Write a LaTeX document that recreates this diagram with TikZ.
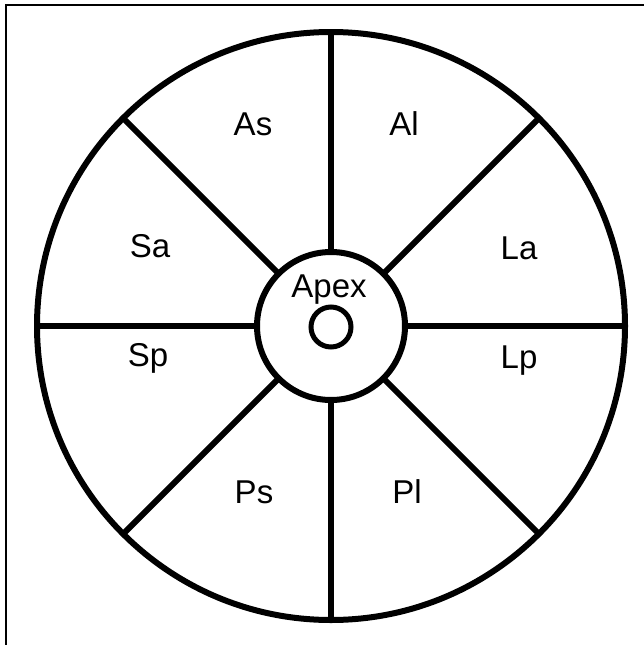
\documentclass[tikz,border=0pt]{standalone}
\usepackage{fontspec}
\setmainfont{Liberation Sans}
\usetikzlibrary{positioning}

\begin{document}
\begin{tikzpicture}[
      x=1pt, y=-1pt, line width=6pt,
      font=\fontsize{33}{36}\selectfont,
      ring/.style={draw, circle, inner sep=0pt, outer sep=0pt},
      lbl/.style={anchor=base, inner sep=0pt},
    ]
      \useasboundingbox (0,0) rectangle (644,645);
      % frame
      \draw[line width=2pt] (6,645) -- (6,5) -- (644,5);

      \node[ring, minimum size=588pt] (rim) at (331,326) {};
      \node[ring, minimum size=148pt] (hub) at (331,326) {};
      \node[ring, minimum size=40pt, line width=5pt] (eye) at (331,327) {};

      \foreach \a in {0,45,...,315}
        \draw (hub.\a) -- (rim.\a);

      \node[lbl] (apex) at (329,297) {Apex};
      \node[lbl] (as) at (253,135) {As};
      \node[lbl] (al) at (404,135) {Al};
      \node[lbl] (sa) at (150,257) {Sa};
      \node[lbl] (la) at (519,259) {La};
      \node[lbl] (sp) at (148,366) {Sp};
      \node[lbl] (lp) at (519,368) {Lp};
      \node[lbl] (ps) at (254,503) {Ps};
      \node[lbl] (pl) at (407,503) {Pl};
    \end{tikzpicture}
\end{document}
